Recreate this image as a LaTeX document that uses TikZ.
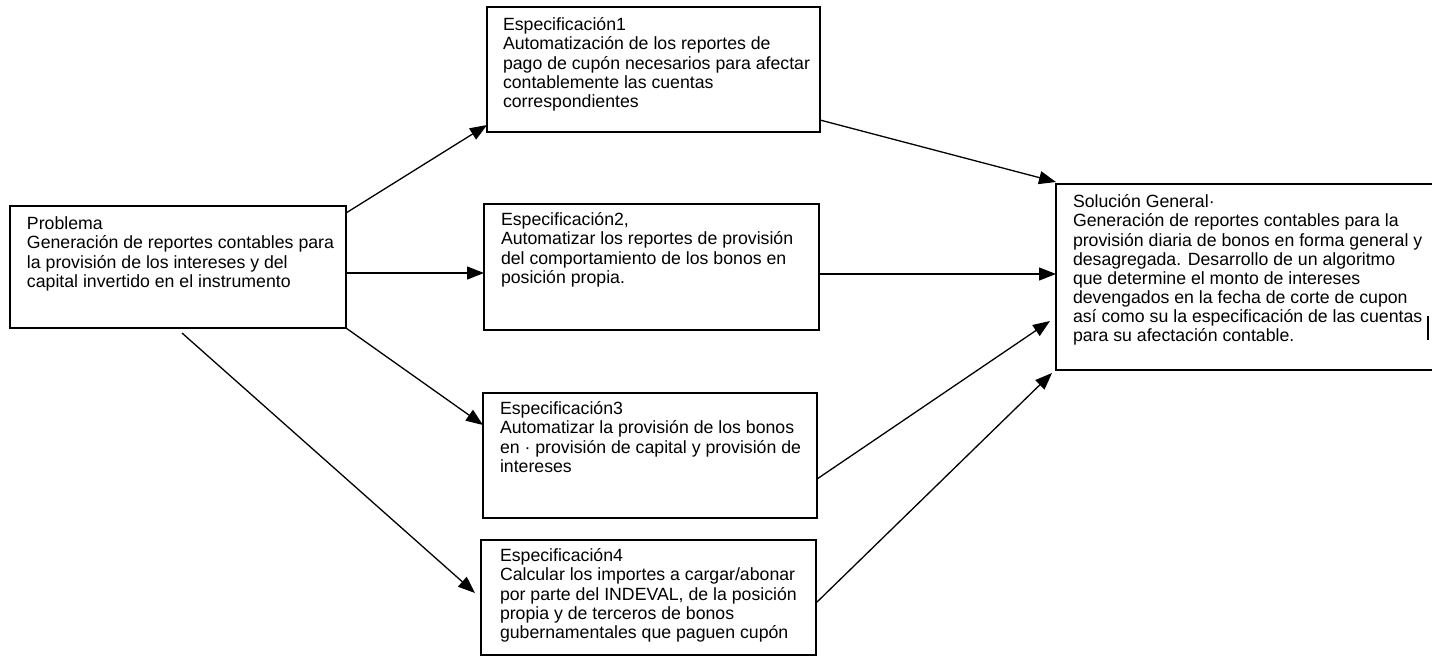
\documentclass[tikz,border=0pt]{standalone}
\usepackage{fontspec}
\setmainfont{Liberation Sans}
\usetikzlibrary{arrows.meta,calc}

\begin{document}
\begin{tikzpicture}[x=1pt,y=-1pt,
  box/.style={draw, line width=1.3pt, rectangle, inner sep=0pt, outer sep=0pt, anchor=north west},
  txt/.style={anchor=north west, inner sep=0pt, outer sep=0pt, align=left,
              font=\fontsize{17.7pt}{19.1pt}\selectfont},
  link/.style={line width=1.3pt, -{Triangle[length=17pt,width=13pt]}},
]
\useasboundingbox (0,0) rectangle (1432,664);
\clip (0,0) rectangle (1432,664);

% boxes
\node[box, minimum width=336pt, minimum height=122pt] (p)   at (10,206)  {};
\node[box, minimum width=333pt, minimum height=125pt] (e1)  at (487,7)   {};
\node[box, minimum width=335pt, minimum height=126pt] (e2)  at (484,204) {};
\node[box, minimum width=334pt, minimum height=125pt] (e3)  at (483,393) {};
\node[box, minimum width=335pt, minimum height=115pt] (e4)  at (481,540) {};
\node[box, minimum width=385pt, minimum height=186pt] (sol) at (1056,184) {};

% box texts
\node[txt] (tp) at ($(p.north west)+(17,10.5)$) {\strut Problema\\
Generación de reportes contables para\\
la provisión de los intereses y del\\
capital invertido en el instrumento};

\node[txt] (t1) at ($(e1.north west)+(16,10.5)$) {\strut Especificación1\\
Automatización de los reportes de\\
pago de cupón necesarios para afectar\\
contablemente las cuentas\\
correspondientes};

\node[txt] (t2) at ($(e2.north west)+(17,8.5)$) {\strut Especificación2,\\
Automatizar los reportes de provisión\\
del comportamiento de los bonos en\\
posición propia.};

\node[txt] (t3) at ($(e3.north west)+(17,8.5)$) {\strut Especificación3\\
Automatizar la provisión de los bonos\\
en · provisión de capital y provisión de\\
intereses};

\node[txt] (t4) at ($(e4.north west)+(19,8.5)$) {\strut Especificación4\\
Calcular los importes a cargar/abonar\\
por parte del INDEVAL, de la posición\\
propia y de terceros de bonos\\
gubernamentales que paguen cupón};

\node[txt] (ts) at ($(sol.north west)+(17,10.5)$) {\strut Solución General·\\
Generación de reportes contables para la\\
provisión diaria de bonos en forma general y\\
desagregada. Desarrollo de un algoritmo\\
que determine el monto de intereses\\
devengados en la fecha de corte de cupon\\
así como su la especificación de las cuentas\\
para su afectación contable.};

% connectors from the problem to the specifications
\draw[link] ([yshift=-7pt]p.north east) -- ([yshift=7pt]e1.south west);
\draw[link] ([yshift=-6pt]p.east) -- ([yshift=-6pt]e2.west);
\draw[link] (p.south east) -- ([yshift=-32pt]e3.north west);
\draw[link] ([xshift=4pt,yshift=-5pt]p.south) -- ([xshift=-6pt,yshift=-53pt]e4.north west);

% connectors from the specifications to the general solution
\coordinate (a2) at ([yshift=-7pt]e2.east);
\draw[link] ([yshift=12pt]e1.south east) -- ([yshift=2pt]sol.north west);
\draw[link] (a2) -- (sol.west |- a2);
\draw[link] ([yshift=-23.5pt]e3.east) -- ([xshift=-6pt,yshift=-44pt]sol.west);
\draw[link] ([yshift=-5.5pt]e4.east) -- ([xshift=-4pt,yshift=-3pt]sol.south west);

% short mark at the right border
\draw[line width=1.3pt] (1428,316) -- (1428,340);
\end{tikzpicture}
\end{document}
